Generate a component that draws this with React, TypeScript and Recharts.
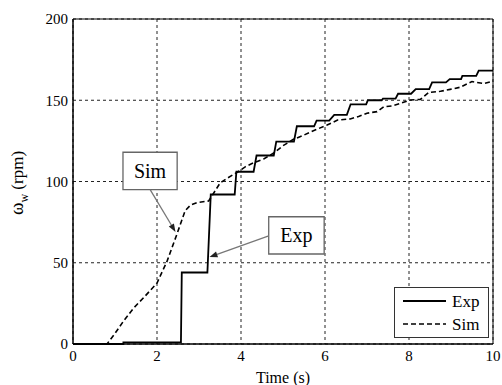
import {
  LineChart,
  Line,
  XAxis,
  YAxis,
  CartesianGrid,
  ReferenceArea,
  ReferenceLine,
  Legend,
  Label,
} from "recharts";

// Exp: measured wheel speed (stepped encoder readings), [time s, rpm]
const expTime = [
  0, 1.2, 1.2, 2.57, 2.59, 3.2, 3.28, 3.85, 3.89, 4.3, 4.37, 4.78, 4.84, 5.26, 5.33,
  5.74, 5.8, 6.1, 6.22, 6.52, 6.61, 6.98, 7.02, 7.35, 7.38, 7.68, 7.74, 8.05, 8.16,
  8.48, 8.55, 8.88, 8.97, 9.24, 9.27, 9.6, 9.66, 10,
];
const expSpeed = [
  0, 0, 1, 1, 44, 44, 92, 92, 106, 106, 116, 116, 124.5, 124.5, 134, 134, 137.5,
  137.5, 141, 141, 147.5, 147.5, 150, 150, 151, 151, 154, 154, 156.8, 156.8, 161,
  161, 163, 163, 165, 165, 168.2, 168.2,
];

// Sim: simulated wheel speed
const simTime = [
  0, 0.81, 1.0, 1.2, 1.44, 1.7, 2.0, 2.24, 2.48, 2.67, 2.8, 2.95, 3.23, 3.5, 3.67,
  3.9, 4.1, 4.3, 4.55, 4.78, 5.0, 5.25, 5.45, 5.75, 6.05, 6.3, 6.6, 6.8, 7.0, 7.24,
  7.4, 7.6, 7.79, 8.03, 8.27, 8.47, 8.75, 8.98, 9.22, 9.5, 9.78, 10,
];
const simSpeed = [
  0, 0, 6.5, 14, 22, 29, 37.5, 51, 68, 82, 85.5, 87, 88, 99, 102, 105.5, 109,
  111.5, 114, 117.5, 122, 126, 128, 131.5, 134.8, 137.8, 138.5, 140, 142, 143, 146,
  146.5, 148, 150.2, 150.5, 154.8, 155.5, 156.7, 158, 161.5, 160.3, 161.8,
];

const xTicks = [0, 2, 4, 6, 8, 10];
const yTicks = [0, 50, 100, 150, 200];

const expData = expTime.map((t, i) => ({ t, v: expSpeed[i] }));
const simData = simTime.map((t, i) => ({ t, v: simSpeed[i] }));

const FONT = "'Liberation Serif', 'Times New Roman', serif";

function Arrow(props: any) {
  const { x1, y1, x2, y2 } = props;
  const a = Math.atan2(y2 - y1, x2 - x1);
  const len = 8;
  const w = 3;
  const bx = x2 - len * Math.cos(a);
  const by = y2 - len * Math.sin(a);
  const px = -Math.sin(a) * w;
  const py = Math.cos(a) * w;
  return (
    <g>
      <line x1={x1} y1={y1} x2={bx} y2={by} stroke="#777" strokeWidth={1.3} />
      <polygon
        points={`${x2},${y2} ${bx + px},${by + py} ${bx - px},${by - py}`}
        fill="#222"
      />
    </g>
  );
}

function LegendBox() {
  return (
    <div
      style={{
        border: "1px solid #333",
        background: "#fff",
        width: 95,
        height: 51,
        boxSizing: "border-box",
      }}
    >
      <svg width={93} height={49} style={{ display: "block" }}>
        <line x1={8} y1={13} x2={51} y2={13} stroke="#000" strokeWidth={1.8} />
        <text x={57} y={19} fontFamily={FONT} fontSize={17} fill="#000">
          Exp
        </text>
        <line
          x1={8}
          y1={36}
          x2={51}
          y2={36}
          stroke="#000"
          strokeWidth={1.6}
          strokeDasharray="5 3"
        />
        <text x={57} y={42} fontFamily={FONT} fontSize={17} fill="#000">
          Sim
        </text>
      </svg>
    </div>
  );
}

export default function App() {
  return (
    <div
      style={{ position: "absolute", left: 0, top: 0, background: "#fff", fontFamily: FONT }}
    >
      <LineChart
        width={502}
        height={385}
        margin={{ top: 19, right: 9, left: 0, bottom: 0 }}
        style={{ fontFamily: FONT }}
      >
        <CartesianGrid
          stroke="#222"
          strokeDasharray="3 3"
          horizontalValues={yTicks}
          verticalValues={xTicks}
        />
        <XAxis
          type="number"
          dataKey="t"
          domain={[0, 10]}
          ticks={xTicks}
          height={41}
          tickLine={false}
          tickSize={0}
          tickMargin={6}
          axisLine={{ stroke: "#000" }}
          tick={{ fill: "#000", fontSize: 15, fontFamily: FONT }}
          allowDuplicatedCategory={false}
        >
          <Label
            value="Time (s)"
            position="insideBottom"
            offset={2}
            fill="#000"
            fontSize={16}
            fontFamily={FONT}
          />
        </XAxis>
        <YAxis
          type="number"
          domain={[0, 200]}
          ticks={yTicks}
          width={73}
          tickLine={false}
          tickSize={0}
          tickMargin={5}
          axisLine={{ stroke: "#000" }}
          tick={{ fill: "#000", fontSize: 15, fontFamily: FONT }}
        >
          <Label
            content={() => (
              <text
                x={23}
                y={183}
                transform="rotate(-90 23 183)"
                textAnchor="middle"
                fontFamily={FONT}
                fontSize={17}
                fill="#000"
              >
                <tspan fontSize={19}>ω</tspan>
                <tspan dy={5} fontSize={12}>
                  w
                </tspan>
                <tspan dy={-5}> (rpm)</tspan>
              </text>
            )}
          />
        </YAxis>
        <ReferenceArea
          x1={0}
          x2={10}
          y1={0}
          y2={200}
          fill="none"
          stroke="#000"
          strokeWidth={1}
        />
        <Line
          data={simData}
          dataKey="v"
          type="linear"
          stroke="#000"
          strokeWidth={1.6}
          strokeDasharray="5 3"
          dot={false}
          isAnimationActive={false}
          name="Sim"
        />
        <Line
          data={expData}
          dataKey="v"
          type="linear"
          stroke="#000"
          strokeWidth={1.8}
          dot={false}
          isAnimationActive={false}
          name="Exp"
        />
        <ReferenceLine
          segment={[
            { x: 1.84, y: 94.8 },
            { x: 2.44, y: 69 },
          ]}
          shape={Arrow}
        />
        <ReferenceLine
          segment={[
            { x: 4.66, y: 66.5 },
            { x: 3.25, y: 53.5 },
          ]}
          shape={Arrow}
        />
        <ReferenceArea
          x1={1.19}
          x2={2.48}
          y1={95}
          y2={118}
          fill="#fff"
          fillOpacity={1}
          stroke="#666"
          strokeWidth={1.3}
          label={{
            value: "Sim",
            position: "center",
            fill: "#000",
            fontSize: 20,
            fontFamily: FONT,
          }}
        />
        <ReferenceArea
          x1={4.66}
          x2={5.98}
          y1={55.4}
          y2={78.3}
          fill="#fff"
          fillOpacity={1}
          stroke="#666"
          strokeWidth={1.3}
          label={{
            value: "Exp",
            position: "center",
            fill: "#000",
            fontSize: 20,
            fontFamily: FONT,
          }}
        />
        <Legend
          layout="horizontal"
          verticalAlign="middle"
          align="center"
          width={95}
          content={() => <LegendBox />}
          wrapperStyle={{ left: 394, top: 287, width: 95, height: 51 }}
        />
      </LineChart>
    </div>
  );
}
